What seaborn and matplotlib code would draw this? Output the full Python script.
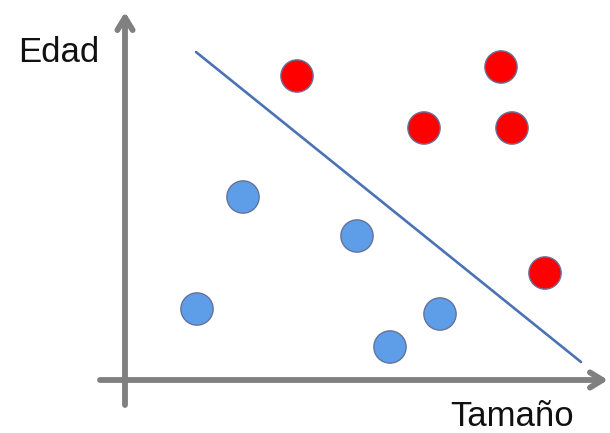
import pandas as pd
import seaborn as sns
import matplotlib.pyplot as plt

# Data (origin at the crossing of the two drawn axes)
red_x = [172, 376, 299, 387, 420]
red_y = [304, 313, 252, 252, 107]
blue_x = [118, 232, 72, 315, 265]
blue_y = [183, 144, 71, 66, 33]
line_x = [71, 456]
line_y = [328, 18]

points = pd.DataFrame({
    'tamano': red_x + blue_x,
    'edad': red_y + blue_y,
    'grupo': ['rojo'] * len(red_x) + ['azul'] * len(blue_x),
})

sns.set_style('white')
plt.rcParams['font.family'] = ['Liberation Sans', 'DejaVu Sans']

fig = plt.figure(figsize=(6.1, 4.33), dpi=100)
ax = fig.add_axes([0, 0, 1, 1])
ax.set_xlim(-125, 485)
ax.set_ylim(-53, 380)
ax.axis('off')

# Axes with arrows
arrow = dict(arrowstyle='->,head_length=0.9,head_width=0.55', lw=4.2,
             color='#808080', shrinkA=0, shrinkB=0)
ax.annotate('', xy=(0, 368), xytext=(0, -25), arrowprops=arrow)
ax.annotate('', xy=(483, 0), xytext=(-25, 0), arrowprops=arrow)

# Separating line
sns.lineplot(x=line_x, y=line_y, ax=ax, color='#4A72B5', linewidth=1.9)

# Points
sns.scatterplot(data=points, x='tamano', y='edad', hue='grupo',
                palette={'rojo': '#FF0000', 'azul': '#5E9DE8'},
                s=540, linewidth=1.0, edgecolor='#66739a', legend=False,
                ax=ax, zorder=3)

ax.text(-66, 328, 'Edad', fontsize=25, ha='center', va='center', color='#111111')
ax.text(387, -37, 'Tamaño', fontsize=25, ha='center', va='center', color='#111111')

plt.savefig('out.png', dpi=100)
